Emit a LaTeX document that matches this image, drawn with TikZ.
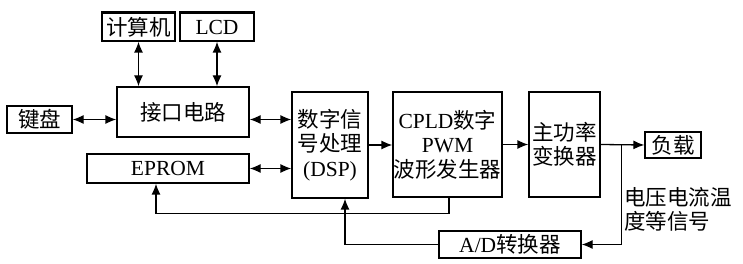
\documentclass[tikz,border=0pt]{standalone}
\usepackage{fontspec}
\setmainfont{Liberation Serif}
\newfontfamily\cjk{Noto Sans CJK SC}
\usetikzlibrary{arrows.meta,positioning,calc}

\begin{document}
\begin{tikzpicture}[
  x=1pt, y=-1pt,
  every node/.style={align=center, font=\fontsize{21.5}{24.5}\selectfont, inner sep=0pt},
  blk/.style={draw, line width=1.3pt},
  link/.style={line width=1.3pt},
  tip/.style={link, -{Latex[length=11pt,width=9pt]}},
  both/.style={link, {Latex[length=11pt,width=9pt]}-{Latex[length=11pt,width=9pt]}}
]
\useasboundingbox (0,0) rectangle (743,264);

% peripherals on the left
\node[blk, minimum width=73pt, minimum height=28pt] (pc) at (138.5,27) {\cjk 计算机};
\node[blk, minimum width=74pt, minimum height=28pt] (lcd) at (217,27) {LCD};
\draw[line width=2.5pt] (pc.north west) -- (pc.north east);
\draw[line width=2.5pt] (lcd.north west) -- (lcd.north east);
\node[blk, minimum width=132pt, minimum height=50pt] (iface) at (183,112) {\cjk 接口电路};
\node[blk, minimum width=65pt, minimum height=27pt] (keys) at (39.5,119.5) {\cjk 键盘};
\node[blk, minimum width=162pt, minimum height=29pt] (eprom) at (168,168.5) {EPROM};

% main chain
\node[blk, minimum width=76pt, minimum height=106pt] (dsp) at (330,145)
  {{\cjk 数字信}\\{\cjk 号处理}\\(DSP)};
\node[blk, minimum width=109pt, minimum height=105pt] (cpld) at (447.5,144.5)
  {CPLD{\cjk 数字}\\PWM\\{\cjk 波形发生器}};
\node[blk, minimum width=71pt, minimum height=105pt] (conv) at (564.5,144.5)
  {{\cjk 主功率}\\{\cjk 变换器}};
\node[blk, minimum width=56pt, minimum height=26pt] (load) at (673,145) {\cjk 负载};
\node[blk, minimum width=142pt, minimum height=27pt] (adc) at (510,244.5) {A/D{\cjk 转换器}};
\node[anchor=north west, align=left] (sig) at (624,187) {{\cjk 电压电流温}\\{\cjk 度等信号}};

% two-way links
\draw[both] (pc.south) -- (pc.south |- iface.north);
\draw[both] (lcd.south) -- (lcd.south |- iface.north);
\draw[both] (keys.east) -- (keys.east -| iface.west);
\draw[both] (keys.east -| iface.east) -- (keys.east -| dsp.west);
\draw[both] (eprom.east) -- (eprom.east -| dsp.west);

% forward path
\draw[tip] (dsp.east) -- (dsp.east -| cpld.west);
\draw[tip] (cpld.east) -- (cpld.east -| conv.west);
\draw[tip] (conv.east) -- (load.west);

% feedback
\coordinate (tap) at ([xshift=21pt]conv.east);
\draw[tip] (tap) |- (adc.east);
\draw[tip] (adc.west) -| ([xshift=15pt]dsp.south);
\draw[tip] ([xshift=1.5pt]cpld.south) -- ++(0,16) -| ([xshift=-12pt]eprom.south);
\end{tikzpicture}
\end{document}
